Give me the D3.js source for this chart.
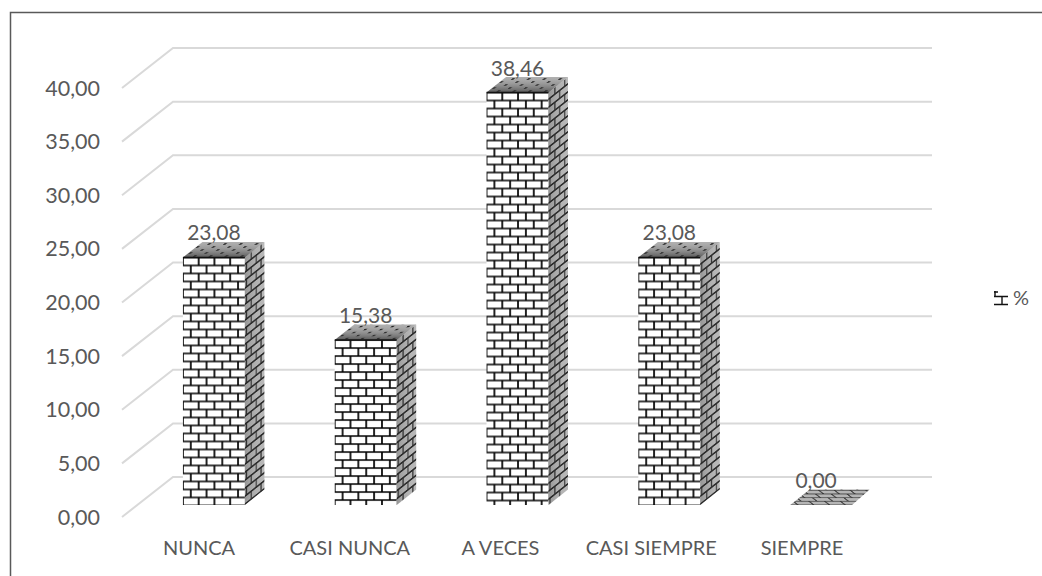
<!DOCTYPE html>
<html><head><meta charset="utf-8">
<script src="https://cdn.jsdelivr.net/npm/d3@7"></script>
<style>html,body{margin:0;padding:0;background:#fff}svg{display:block}text{font-family:"Lato",sans-serif;fill:#595959}</style>
</head><body><svg id="c" width="1042" height="576"></svg>
<script>
const categories=["NUNCA","CASI NUNCA","A VECES","CASI SIEMPRE","SIEMPRE"];
const values=[23.08,15.38,38.46,23.08,0];
const valueLabels=["23,08","15,38","38,46","23,08","0,00"];
const yTicks=[0,5,10,15,20,25,30,35,40];
const legendLabel="%";

const svg=d3.select("#c");
const depth={x:51,y:-40}, barOff={x:16,y:-12}, barDepth={x:19.5,y:-15.5};
const y=d3.scaleLinear().domain([0,40]).range([517,88]);
const x=d3.scaleBand().domain(categories).range([122,881]).paddingInner(0.592).paddingOuter(0.296);
const catX=d3.scalePoint().domain(categories).range([199,802]);
const fmt=d3.format(".2f");

svg.append("path").attr("d","M10.5,576V12.5H1042").attr("fill","none").attr("stroke","#595959").attr("stroke-width",1.5);

// gridlines (floor / wall)
svg.append("g").selectAll("path").data(yTicks).join("path")
 .attr("d",d=>`M122,${y(d)}L${122+depth.x},${y(d)+depth.y}H932`)
 .attr("fill","none").attr("stroke","#d9d9d9").attr("stroke-width",2);

// axis labels
svg.append("g").selectAll("text").data(yTicks).join("text")
 .attr("x",100).attr("y",d=>y(d)+7.5).attr("text-anchor","end").attr("font-size",21.5)
 .text(d=>fmt(d).replace(".",","));
svg.append("g").selectAll("text").data(categories).join("text")
 .attr("x",d=>catX(d)).attr("y",555).attr("text-anchor","middle").attr("font-size",20)
 .text(d=>d);

// patterns
const defs=svg.append("defs");
function brick(id,bg,tf,line,sw){
  const p=defs.append("pattern").attr("id",id).attr("patternUnits","userSpaceOnUse")
   .attr("width",15.75).attr("height",16).attr("patternTransform",tf);
  p.append("rect").attr("width",15.75).attr("height",16).attr("fill",bg);
  p.append("path").attr("fill","none").attr("stroke",line).attr("stroke-width",sw)
   .attr("d","M0,8H15.75M0,16H15.75M0,0H15.75M0,0V8M15.75,0V8M7.87,8V16");
}
brick("front","#fff","translate(0,0)","#000",1.7);
const sk=barDepth.y/barDepth.x;
brick("side","#b0b0b0",`matrix(0.62,${0.62*sk},0,1,0,0)`,"#111",1.8);
brick("zero","#b5b5b5",`matrix(1,0,${-barDepth.x/barDepth.y*0.46},0.46,0,0)`,"#222",1.4);
const dots=defs.append("pattern").attr("id","dots").attr("patternUnits","userSpaceOnUse")
  .attr("width",15.75).attr("height",6).attr("patternTransform",`skewX(-50)`);
dots.append("rect").attr("width",15.75).attr("height",6).attr("fill","#b0b0b0");
dots.append("path").attr("stroke","#111").attr("stroke-width",1.4).attr("d","M1,1.5h2.5M9,4.5h2.5");
const tg=defs.append("linearGradient").attr("id","fade").attr("x1",0).attr("y1",1).attr("x2",0).attr("y2",0);
tg.append("stop").attr("offset",0).attr("stop-color","#333").attr("stop-opacity",.7);
tg.append("stop").attr("offset",1).attr("stop-color","#888").attr("stop-opacity",0);
const sg=defs.append("linearGradient").attr("id","sfade").attr("x1",0).attr("y1",0).attr("x2",1).attr("y2",0);
sg.append("stop").attr("offset",0).attr("stop-color","#555").attr("stop-opacity",.3);
sg.append("stop").attr("offset",1).attr("stop-color","#fff").attr("stop-opacity",.1);

// bars
const base=y(0)+barOff.y, unit=(y(0)-y(40))/40;
const bars=svg.append("g").selectAll("g").data(values).join("g")
 .attr("transform",(d,i)=>`translate(${x(categories[i])+barOff.x},${base-d*unit})`);
const w=x.bandwidth(), bx=barDepth.x, by=barDepth.y;
bars.filter(d=>d>0).each(function(d){
  const g=d3.select(this), h=d*unit;
  g.append("rect").attr("width",w).attr("height",h).attr("fill","url(#front)");
  const sidePath=`M${w},0L${w+bx},${by}V${h+by}L${w},${h}Z`;
  g.append("path").attr("d",sidePath).attr("fill","url(#side)");
  g.append("path").attr("d",sidePath).attr("fill","url(#sfade)");
  const topPath=`M0,0L${bx},${by}H${w+bx}L${w},0Z`;
  g.append("path").attr("d",topPath).attr("fill","url(#dots)");
  g.append("path").attr("d",topPath).attr("fill","url(#fade)");
  g.append("path").attr("d","M0,0H"+w).attr("stroke","#111").attr("stroke-width",1.5);
});
bars.filter(d=>d===0).append("path").attr("d",`M0,0L${bx},${by}H${w+bx-2}L${w},0Z`).attr("fill","url(#zero)");

// value labels
svg.append("g").selectAll("text").data(values).join("text")
 .attr("x",(d,i)=>x(categories[i])+barOff.x+w/2+(d===0?-5:0))
 .attr("y",d=>base-d*unit+by-1.5)
 .attr("text-anchor","middle").attr("font-size",21)
 .text((d,i)=>valueLabels[i]);

// legend
svg.append("path").attr("fill","none").attr("stroke","#111").attr("stroke-width",1.4)
 .attr("d","M994,292h4M995,291v5M994,296.5h14M1002,296.5v8M994,304.5h14");
svg.append("text").attr("x",1013).attr("y",305).attr("font-size",20).text(legendLabel);
</script></body></html>
